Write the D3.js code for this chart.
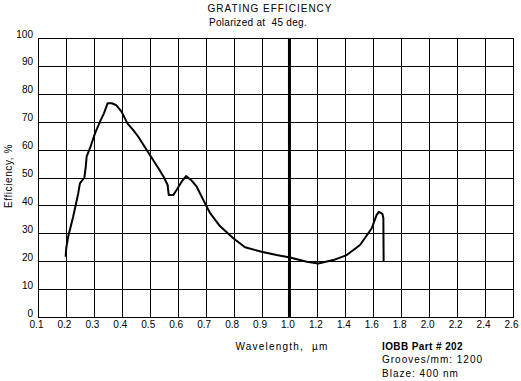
<!DOCTYPE html>
<html><head><meta charset="utf-8">
<script src="https://cdn.jsdelivr.net/npm/d3@7"></script>
<style>
body{margin:0;background:#fff;}
svg{display:block;font-family:"Liberation Sans",Arial,sans-serif;}
</style></head>
<body>
<svg id="c" width="521" height="381"></svg>
<script>
const xTicks = [0.1,0.2,0.3,0.4,0.5,0.6,0.7,0.8,0.9,1.0,1.2,1.4,1.6,1.8,2.0,2.2,2.4,2.6];
const yTicks = [0,10,20,30,40,50,60,70,80,90,100];
const wavelength = [0.199,0.201,0.208,0.226,0.244,0.25,0.266,0.271,0.274,0.286,0.304,0.322,0.336,0.349,0.364,0.379,0.399,0.42,0.441,0.459,0.501,0.531,0.551,0.564,0.568,0.584,0.596,0.614,0.63,0.65,0.668,0.692,0.716,0.751,0.799,0.841,0.9,0.954,1.004,1.124,1.206,1.314,1.41,1.505,1.589,1.624,1.64,1.665,1.672,1.674];
const efficiency = [21.6,24.6,28.8,36,44.3,47.9,50,53.9,57.5,60.5,65.8,70,73,76.6,76.6,76,73.6,69.4,67,64.6,58,53.3,50,47.3,43.7,43.7,45.5,48.5,50.5,48.9,46.7,41.9,37.2,32.6,28.2,25,23.4,22.2,21.3,19.8,19.2,20.4,22.2,25.8,31.8,36.6,37.7,37.0,35.5,20.0];
const markerWavelength = [1.0];

const L=38, R=513, T=38, B=317;
const svg = d3.select("#c");
const xRange = xTicks.map((d,i)=>L+(R-L)*i/(xTicks.length-1));
const x = d3.scaleLinear().domain(xTicks).range(xRange);
const y = d3.scaleLinear().domain([0,100]).range([B,T]);

// horizontal grid + y labels
const gy = svg.append("g").attr("transform",`translate(${L},0)`)
  .call(d3.axisLeft(y).tickValues(yTicks).tickSizeInner(-(R-L)).tickSizeOuter(0).tickFormat(d3.format("d")));
gy.select(".domain").remove();
gy.selectAll(".tick line").attr("stroke","#000").attr("shape-rendering","crispEdges");
gy.selectAll(".tick text").attr("x",-5).attr("dy","0").attr("y",-1)
  .attr("fill","#000").style("font-size","10px").style("font-family","Liberation Sans, Arial, sans-serif");

// vertical grid + x labels
const gx = svg.append("g").attr("transform",`translate(0,${B})`)
  .call(d3.axisBottom(x).tickValues(xTicks).tickSizeInner(-(B-T)).tickSizeOuter(0).tickFormat(d3.format(".1f")));
gx.select(".domain").remove();
gx.selectAll(".tick line").attr("stroke","#000").attr("shape-rendering","crispEdges");
gx.selectAll(".tick text").attr("x",-2).attr("y",11).attr("dy","0")
  .attr("fill","#000").style("font-size","10px").style("font-family","Liberation Sans, Arial, sans-serif");

// frame
svg.append("rect").attr("x",L).attr("y",T).attr("width",R-L).attr("height",B-T)
  .attr("fill","none").attr("stroke","#000").attr("shape-rendering","crispEdges");

// thick marker line at 1.0 um
svg.selectAll(".marker").data(markerWavelength).enter().append("line")
  .attr("x1",d=>x(d)).attr("x2",d=>x(d)).attr("y1",T).attr("y2",B)
  .attr("stroke","#000").attr("stroke-width",3);

// curve
const pts = wavelength.map((w,i)=>[w,efficiency[i]]);
svg.append("path").datum(pts)
  .attr("d",d3.line().x(d=>x(d[0])).y(d=>y(d[1])))
  .attr("fill","none").attr("stroke","#000").attr("stroke-width",2).attr("stroke-linejoin","round");

// titles
svg.append("text").attr("x",270).attr("y",12).attr("text-anchor","middle")
  .style("font-size","10px").style("letter-spacing","1px").text("GRATING EFFICIENCY");
svg.append("text").attr("x",258).attr("y",25.5).attr("text-anchor","middle")
  .style("font-size","10px").style("letter-spacing","0.3px").attr("xml:space","preserve").text("Polarized at  45 deg.");
svg.append("text").attr("x",282).attr("y",350).attr("text-anchor","middle")
  .style("font-size","10px").style("letter-spacing","1.2px").attr("xml:space","preserve").text("Wavelength,  µm");
svg.append("text").attr("transform","translate(11.5,176) rotate(-90)").attr("text-anchor","middle")
  .style("font-size","10px").style("letter-spacing","0.6px").text("Efficiency, %");

const info = ["IOBB Part # 202","Grooves/mm: 1200","Blaze: 400 nm"];
svg.selectAll(".info").data(info).enter().append("text")
  .attr("x",382).attr("y",(d,i)=>350+i*13.3)
  .style("font-size","10px")
  .style("font-weight",(d,i)=>i===0?"bold":"normal")
  .style("letter-spacing",(d,i)=>i===0?"0.4px":"1px")
  .text(d=>d);
</script>
</body></html>
